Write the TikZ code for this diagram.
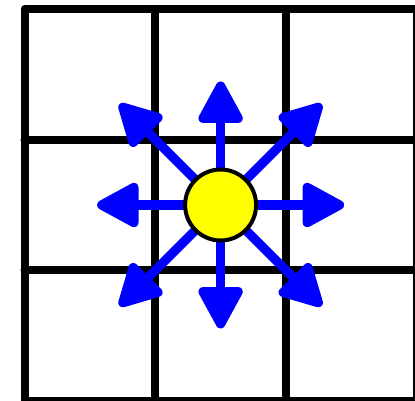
\documentclass[tikz,border=0pt]{standalone}
\usetikzlibrary{arrows.meta}
\definecolor{pureblue}{RGB}{0,0,255}
\definecolor{pureyellow}{RGB}{255,255,0}
\tikzset{
  gridline/.style={line width=8pt, black, line join=round, line cap=round},
  ray/.style={line width=9.3pt, pureblue, -{Triangle[round, length=47pt, width=48pt]}},
  dot/.style={circle, draw=black, line width=4pt, fill=pureyellow, minimum size=71pt, inner sep=0pt}
}
\begin{document}
\begin{tikzpicture}[x=1pt,y=-1pt]
\useasboundingbox (0,0) rectangle (415,401);
\clip (0,0) rectangle (415,401);
\fill[white] (0,0) rectangle (415,401);
% grid
\draw[gridline] (24.5,8.8) rectangle (416.9,401.2);
\draw[gridline] (155.3,8.8) -- (155.3,401.2);
\draw[gridline] (286.1,8.8) -- (286.1,401.2);
\draw[gridline] (24.5,139.6) -- (416.9,139.6);
\draw[gridline] (24.5,270.4) -- (416.9,270.4);
% centre and ray ends
\coordinate (o) at (220.6,205);
\coordinate (n) at (220.6,81.5);
\coordinate (s) at (220.6,328.5);
\coordinate (e) at (344.1,205);
\coordinate (w) at (97.1,205);
\coordinate (ne) at (321.6,104);
\coordinate (nw) at (119.6,104);
\coordinate (se) at (321.6,306);
\coordinate (sw) at (119.6,306);
\foreach \t in {n,s,e,w,ne,nw,se,sw}{
  \draw[ray] (o) -- (\t);
}
\node[dot] (c) at (o) {};
\end{tikzpicture}
\end{document}
